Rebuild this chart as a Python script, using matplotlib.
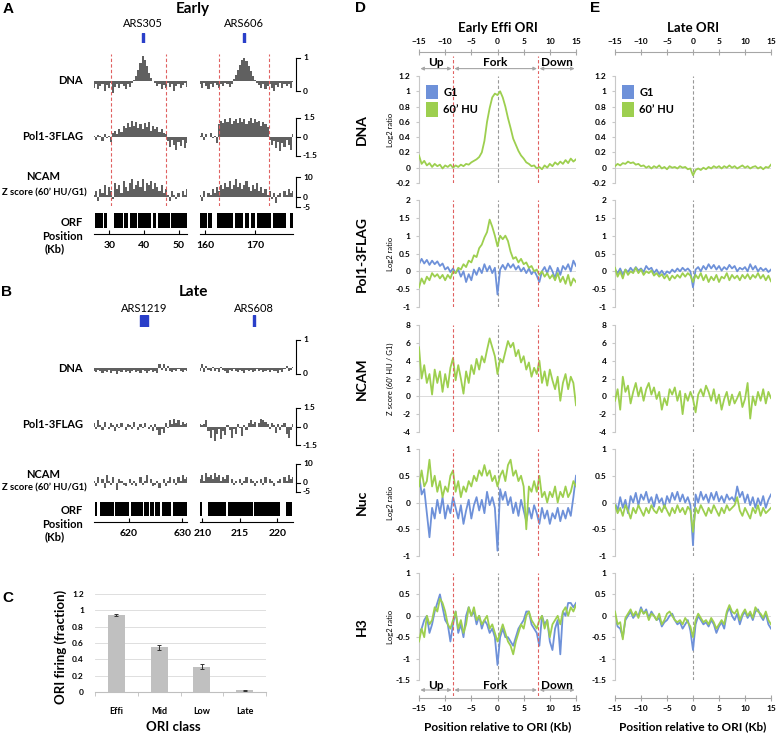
import numpy as np
import matplotlib.pyplot as plt
from matplotlib.patches import Patch
from matplotlib.transforms import blended_transform_factory as blend

plt.rcParams['font.family'] = ['Lato', 'DejaVu Sans']

# ---------------- Panel A (early origins) browser tracks ----------------
a_xlims = [(25.6, 52.3), (159.0, 177.6)]
a_dna_base = 0.3
a_dna_left = [0.1, 0.2, 0.05, 0.15, 0.22, 0.0, 0.18, 0.1, 0.25, -0.05,
              0.12, 0.2, 0.08, 0.22, 0.15, 0.05, 0.2, 0.12, 0.25,
              0.32, 0.45, 0.65, 0.85, 1.05, 0.95, 0.75, 0.55, 0.4, 0.3,
              0.25, 0.15, 0.22, 0.05, 0.18, 0.1, 0.25, 0.12, 0.2, 0.0, 0.15, 0.22, 0.1, 0.18, 0.25, 0.12]
a_dna_right = [0.2, 0.1, 0.25, 0.15, 0.05, 0.2, 0.12, 0.25, 0.18, 0.08, 0.22, 0.15, 0.25, 0.2, 0.12, 0.22,
               0.35, 0.5, 0.65, 0.8, 0.95, 1.0, 0.9, 0.75, 0.6, 0.45, 0.32,
               0.25, 0.18, 0.1, 0.2, 0.05, 0.15, 0.22, 0.1, 0.0, 0.18, 0.12, 0.25, 0.08, 0.2, 0.15, 0.22, 0.1, 0.28]
a_pol_left = [0.1, -0.2, 0.15, 0.05, -0.3, 0.2, -0.1, 0.1, -0.4,
              0.3, 0.5, 0.2, 0.6, 0.4, 0.9, 0.7, 1.1, 0.8, 1.3, 0.9, 1.2, 0.7, 1.0, 0.6, 1.1, 0.8, 1.2,
              0.5, 0.9, 0.6, 0.8, 0.4, 0.6, 0.3, 0.2,
              -0.3, -0.8, -0.2, -0.6, -1.0, -0.4, -0.7, -0.2, -0.9, -0.5]
a_pol_right = [0.1, 0.3, -0.2, 0.2, 0.0, 0.3, -0.1, 0.1, -0.5,
               1.0, 1.3, 1.1, 1.4, 1.2, 1.5, 1.0, 1.3, 1.4, 1.1, 1.5, 1.2, 1.4, 1.0, 1.3, 1.5, 1.1, 1.4,
               1.2, 1.3, 0.9, 1.2, 1.0, 0.8,
               -0.2, -0.6, -0.3, -0.9, -0.4, -1.1, -0.5, -0.8, -0.2, -0.6, -1.0, 0.2]
a_ncam_left = [1, 3, -2, 4, 2, 6, 1, 5, 3, -1, 7, 4, 6, 2, 8, 5, 3, 7, 9, 4, 6, 8, 5, 9, 3,
               7, 6, 8, 4, 7, 5, 3, 6, 2, 4, 1, -2, 3, 1, -1, 2, 0, 3, 1, 4]
a_ncam_right = [1, -2, 3, 0, 2, 1, 4, 2, 5, 3, 6, 4, 7, 5, 8, 4, 6, 9, 5, 7, 4, 6, 8, 5, 3,
                6, 4, 7, 3, 5, 2, 4, 1, 3, -1, 2, -3, 1, 2, 0, 3, 1, 4, 2, 3]
a_orf = [[(25.8, 28.3), (28.6, 29.2), (31.4, 33.9), (34.2, 35.3), (35.8, 37.9), (38.3, 42.1),
          (42.6, 43.5), (44.0, 47.4), (47.8, 52.2)],
         [(159.0, 160.3), (160.7, 161.3), (162.3, 165.6), (166.0, 167.6), (168.0, 168.8),
          (169.1, 170.0), (170.3, 173.2), (173.6, 176.2), (176.9, 177.5)]]
a_pos_ticks = [[30, 40, 50], [160, 170]]
a_fork_edges = [[30.6, 46.2], [162.8, 172.8]]
a_ars = [('ARS305', 39.5, 39.85), ('ARS606', 167.7, 167.95)]

# ---------------- Panel B (late origins) browser tracks ----------------
b_xlims = [(613.4, 630.9), (209.7, 222.1)]
b_dna_base = 0.18
b_dna_left = [0.1, 0.05, 0.12, 0.08, 0.02, 0.1, 0.06, 0.12, 0.04, 0.1, 0.08, 0.0, 0.1, 0.06, 0.12,
              0.05, 0.1, 0.03, 0.09, 0.12, 0.06, 0.1, 0.04, 0.11, 0.08, 0.02, 0.1, 0.13, 0.06, 0.1,
              0.04, 0.3, 0.12, 0.28, 0.08, 0.25, 0.1, 0.06, 0.12, 0.08, 0.14, 0.1, 0.05, 0.12, 0.1]
b_dna_right = [0.1, 0.28, 0.05, 0.25, 0.12, 0.08, 0.22, 0.1, 0.14, 0.06, 0.2, 0.12, 0.1, 0.04, 0.12,
               0.08, 0.14, 0.1, 0.06, 0.12, 0.1, 0.04, 0.13, 0.08, 0.12, 0.05, 0.1, 0.14, 0.08, 0.12,
               0.06, 0.1, 0.13, 0.05, 0.12, 0.08, 0.1, 0.04, 0.12, 0.06, 0.14, 0.25, 0.08, 0.12, 0.22]
b_pol_left = [0.3, -0.2, 0.5, 0.1, -0.3, 0.4, 0.0, -0.2, 0.3, 0.1, -0.4, 0.2, -0.1, 0.3, 0.0,
              -0.3, 0.2, 0.1, -0.2, 0.4, 0.0, -0.3, 0.2, -0.1, 0.3, 0.0, -0.2, 0.1, -0.4, 0.2,
              -0.3, -0.7, -0.2, -0.5, 0.3, -0.1, 0.5, 0.2, 0.6, 0.3, 0.5, 0.1, 0.4, 0.2, 0.3]
b_pol_right = [0.2, 0.15, 0.2, 0.5, -0.4, -0.9, -0.3, -1.2, -0.6, -0.2, -1.0, -0.4, -0.7, 0.1, -0.3,
               -0.9, -0.2, -0.6, 0.2, -0.1, -0.8, 0.1, -0.3, 0.3, 0.5, 0.2, 0.4, 0.0, 0.3, 0.6,
               0.5, 0.4, 0.2, -0.2, 0.3, 0.1, -0.5, 0.2, -0.3, 0.1, 0.3, -0.6, -0.9, -0.3, 0.2]
b_ncam_left = [1, -2, 3, 0, 2, -3, 4, 1, -1, 3, 0, -4, 2, 1, -1, -2, 0, 2, -1, 1, -2, 0, 3, -1, 1,
               4, 0, 2, -2, -1, 1, -3, 0, 2, -2, 1, 3, 0, 2, -1, 3, 1, 4, 2, 3]
b_ncam_right = [2, 4, 1, 5, 3, 4, 2, 5, 3, 4, 1, 3, 2, 4, 0, 2, -1, 1, 0, 2, -1, 1, 3, 0, 2,
                1, -2, 1, 0, 2, -1, 3, 0, 2, 1, -2, 0, 1, 2, 0, 3, 1, 4, 2, 3]
b_orf = [[(613.5, 614.0), (614.6, 617.1), (617.4, 620.0), (620.4, 622.6), (622.9, 623.7),
          (624.0, 624.7), (624.9, 625.9), (626.2, 627.9), (628.2, 630.9)],
         [(209.6, 209.9), (210.8, 213.1), (213.4, 216.7), (216.9, 220.4), (221.1, 222.0)]]
b_pos_ticks = [[620, 630], [210, 215, 220]]
b_ars = [('ARS1219', 622.1, 623.6), ('ARS608', 216.7, 217.0)]

# ---------------- Panel C ----------------
ori_classes = ['Effi', 'Mid', 'Low', 'Late']
ori_firing = [0.94, 0.55, 0.31, 0.02]
ori_err = [0.01, 0.03, 0.03, 0.005]

# ---------------- Panels D / E: profiles around ORI ----------------
pos_kb = np.arange(-15, 15.01, 0.5)
fork_edges = [-8.5, 7.8]
region_edges = [-15, -8.5, 7.8, 15]
region_names = ['Up', 'Fork', 'Down']

d_dna_hu = [0.16, 0.05, 0.09, 0.03, 0.06, 0.01, 0.05, 0.02, 0.04, -0.01,
            0.03, 0.01, 0.04, 0.0, 0.03, 0.01, 0.04, 0.02, 0.05, 0.04,
            0.07, 0.09, 0.11, 0.14, 0.2, 0.35, 0.6, 0.78, 0.92, 0.97,
            0.95, 1.0, 0.92, 0.8, 0.65, 0.52, 0.38, 0.3, 0.22, 0.16,
            0.12, 0.07, 0.05, 0.02, 0.03, -0.01, 0.01, -0.02, 0.03, 0.0,
            0.05, 0.02, 0.07, 0.04, 0.08, 0.05, 0.1, 0.06, 0.12, 0.08, 0.11]
d_pol_g1 = [0.2, 0.35, 0.22, 0.32, 0.18, 0.3, 0.2, 0.28, 0.15, 0.22,
            0.05, 0.12, -0.02, 0.08, -0.05, 0.05, -0.15, 0.0, -0.3, -0.08,
            -0.25, 0.05, -0.1, 0.1, -0.05, 0.2, 0.0, 0.15, -0.05, 0.1,
            -0.65, 0.05, 0.18, 0.05, 0.22, 0.1, 0.2, 0.05, 0.15, 0.0,
            0.1, -0.05, 0.08, -0.08, 0.02, -0.12, -0.3, 0.0, 0.12, -0.05,
            0.15, 0.0, -0.2, 0.1, -0.1, 0.15, 0.05, 0.2, 0.0, 0.3, 0.15]
d_pol_hu = [-0.45, -0.2, -0.35, -0.15, -0.25, -0.05, -0.15, -0.08, -0.2, -0.1,
            -0.25, -0.1, -0.2, 0.0, -0.05, 0.1, 0.05, 0.2, 0.12, 0.3,
            0.25, 0.45, 0.4, 0.65, 0.75, 0.95, 1.1, 1.45, 1.25, 1.0,
            0.7, 1.0, 0.9, 1.0, 0.85, 0.55, 0.35, 0.4, 0.25, 0.35,
            0.2, 0.25, 0.1, 0.15, 0.0, 0.05, -0.1, 0.0, -0.15, -0.05,
            -0.2, -0.1, -0.25, -0.05, -0.3, -0.15, -0.35, -0.1, -0.4, -0.2, -0.3]
d_ncam_hu = [5.5, 2.0, 3.5, 1.5, 2.5, 0.2, 3.0, 1.5, 2.8, 0.5,
             2.5, 1.0, 3.2, 4.3, 1.8, 3.5, 2.0, 0.3, 2.8, 1.5,
             3.5, 2.5, 4.2, 3.0, 4.5, 3.8, 5.2, 6.5, 5.5, 4.5,
             2.5, 4.2, 3.8, 5.0, 6.2, 5.5, 6.0, 4.5, 5.2, 3.8,
             4.5, 3.0, 3.8, 2.2, 3.2, 2.5, 4.0, 1.5, 2.8, 1.2,
             3.0, 1.8, 0.8, 2.2, -0.5, 1.5, 2.5, 0.8, 2.2, 1.5, -1.0]
d_nuc_g1 = [0.55, 0.15, 0.25, -0.2, -0.65, -0.1, -0.3, 0.05, -0.2, 0.1,
            -0.3, -0.05, -0.2, 0.1, -0.1, -0.3, -0.05, -0.4, -0.15, 0.05,
            -0.3, -0.05, 0.1, -0.15, 0.05, -0.2, 0.2, -0.05, 0.1, -0.1,
            -0.9, 0.25, 0.05, 0.2, -0.05, 0.1, -0.2, 0.0, -0.25, 0.05,
            -0.15, -0.35, -0.1, -0.3, -0.05, -0.2, -0.4, -0.1, -0.3, -0.15,
            -0.4, -0.2, -0.3, -0.1, -0.35, -0.15, -0.3, -0.1, -0.25, 0.1, 0.5]
d_nuc_hu = [0.3, 0.6, 0.3, 0.4, 0.8, 0.3, 0.5, 0.2, 0.4, 0.1,
            0.3, 0.2, 0.5, 0.6, 0.2, 0.4, 0.1, 0.3, 0.2, 0.4,
            0.3, 0.5, 0.4, 0.6, 0.5, 0.7, 0.5, 0.6, 0.4, 0.5,
            0.3, 0.5, 0.6, 0.4, 0.7, 0.8, 0.5, 0.6, 0.4, 0.5,
            0.3, -0.5, 0.3, 0.2, 0.4, 0.2, 0.5, 0.1, 0.2, 0.0,
            0.2, 0.1, 0.3, 0.0, 0.2, 0.1, 0.3, 0.1, 0.2, 0.4, 0.3]
d_h3_g1 = [-0.4, -0.3, -0.1, 0.0, -0.4, -0.2, 0.1, 0.3, 0.5, 0.2,
           -0.1, -0.2, -0.6, -0.2, 0.1, -0.4, -0.2, -0.5, 0.0, 0.2,
           0.0, 0.1, -0.2, 0.0, -0.3, -0.1, -0.2, -0.4, -0.3, -0.5,
           -1.15, -0.5, -0.3, -0.5, -0.5, -0.6, -0.7, -0.5, -0.3, -0.2,
           -0.1, 0.1, 0.1, -0.2, -0.3, -0.4, -0.7, 0.0, -0.2, -0.1,
           -0.6, -0.8, -0.3, -0.1, -0.9, 0.1, 0.0, 0.3, 0.3, 0.2, 0.3]
d_h3_hu = [-0.6, -0.3, -0.5, 0.0, -0.2, -0.1, 0.2, 0.1, 0.4, 0.3,
           0.1, -0.2, -0.3, -0.1, 0.1, -0.3, -0.1, -0.4, -0.2, 0.2,
           0.0, 0.2, -0.1, 0.0, -0.2, -0.1, 0.0, -0.3, -0.2, -0.4,
           -0.6, -0.4, -0.2, -0.4, -0.6, -0.7, -0.9, -0.6, -0.4, -0.2,
           -0.3, 0.0, 0.1, -0.1, -0.2, -0.3, -0.1, 0.0, -0.3, -0.1,
           -0.5, -0.2, -0.1, 0.0, -0.2, 0.1, 0.2, 0.0, 0.2, 0.1, 0.25]

e_dna_hu = [0.02, 0.05, 0.03, 0.06, 0.05, 0.08, 0.06, 0.07, 0.04, 0.05,
            0.02, 0.03, 0.0, 0.02, -0.01, 0.02, 0.0, 0.03, -0.01, 0.01,
            -0.02, 0.02, 0.0, 0.01, -0.01, 0.02, 0.0, 0.01, -0.02, -0.01,
            -0.1, -0.03, -0.01, -0.03, 0.0, -0.02, 0.01, -0.01, 0.02, 0.0,
            0.02, -0.01, 0.02, 0.0, 0.03, 0.0, 0.02, -0.01, 0.01, 0.03,
            0.0, 0.02, -0.01, 0.01, 0.02, -0.01, 0.01, -0.02, 0.01, 0.0, 0.04]
e_pol_g1 = [0.05, -0.05, 0.08, -0.1, 0.05, -0.02, 0.1, 0.0, 0.12, 0.02,
            0.08, -0.02, 0.15, 0.05, 0.1, -0.05, 0.05, -0.08, 0.02, -0.1,
            0.0, -0.05, 0.05, -0.02, 0.08, 0.0, 0.1, 0.02, 0.08, 0.0,
            -0.45, 0.05, 0.12, 0.0, 0.15, 0.05, 0.2, 0.08, 0.18, 0.05,
            0.15, 0.02, 0.12, 0.05, 0.18, 0.08, 0.15, 0.0, 0.1, 0.05,
            0.12, 0.0, 0.2, 0.05, 0.15, 0.0, 0.1, 0.02, 0.08, -0.02, 0.05]
e_pol_hu = [0.1, -0.15, 0.0, -0.2, 0.05, -0.1, 0.0, -0.05, 0.1, -0.05,
            0.05, -0.1, 0.0, -0.05, 0.02, -0.12, -0.05, -0.15, -0.08, -0.2,
            -0.1, -0.25, -0.12, -0.2, -0.1, -0.18, -0.05, -0.15, -0.05, -0.12,
            -0.3, -0.1, -0.2, -0.05, -0.25, -0.1, -0.3, -0.15, -0.25, -0.1,
            -0.3, -0.15, -0.2, -0.05, -0.25, -0.1, -0.2, -0.12, -0.25, -0.1,
            -0.2, -0.08, -0.22, -0.1, -0.18, -0.05, -0.2, -0.1, -0.25, -0.12, -0.28]
e_ncam_hu = [-0.5, 0.8, -1.5, 2.2, 0.5, 1.2, -0.8, 0.5, 1.5, 0.0,
             1.0, -0.5, 0.8, 1.5, 0.2, 1.0, -0.3, 0.5, -1.5, -0.2,
             -1.0, 0.8, 0.2, 1.0, -0.5, 0.6, -2.0, 0.3, -0.5, 0.5,
             -0.3, -1.8, 0.2, 0.8, 0.0, 1.2, 0.5, -0.5, 0.8, -0.8,
             0.2, -1.5, -0.3, 0.5, -1.0, 0.2, -0.8, -0.2, 0.5, -1.2,
             -0.3, 1.5, -2.5, 0.0, -1.0, 0.5, -0.5, 0.8, -0.8, 0.5, -0.2]
e_nuc_g1 = [0.0, -0.15, 0.1, -0.1, 0.05, -0.2, 0.12, 0.0, 0.18, -0.05,
            0.15, 0.05, 0.2, 0.0, 0.1, -0.08, 0.15, 0.0, 0.08, -0.1,
            0.12, 0.0, 0.18, 0.05, 0.2, 0.02, 0.15, 0.0, 0.1, -0.05,
            -0.8, 0.15, 0.0, 0.2, 0.05, 0.15, 0.0, 0.18, 0.05, 0.2,
            0.02, 0.12, 0.0, 0.15, 0.05, 0.1, 0.02, 0.3, 0.1, 0.2,
            0.0, 0.15, -0.05, 0.1, -0.1, 0.08, -0.05, 0.12, -0.1, 0.05, 0.15]
e_nuc_hu = [-0.05, -0.2, -0.1, -0.25, -0.05, -0.15, -0.3, -0.1, -0.2, -0.05,
            -0.15, -0.25, -0.1, -0.2, -0.05, -0.15, -0.2, -0.08, -0.18, -0.05,
            -0.15, -0.25, -0.1, -0.2, -0.05, -0.18, -0.1, -0.22, -0.08, -0.15,
            -0.55, -0.1, -0.2, -0.05, -0.15, -0.25, -0.1, -0.2, -0.05, -0.15,
            -0.25, -0.1, -0.2, -0.05, -0.15, -0.1, -0.05, 0.1, -0.15, -0.25,
            -0.1, -0.2, -0.3, -0.1, -0.2, -0.05, -0.25, -0.1, -0.2, -0.15, -0.1]
e_h3_g1 = [0.0, -0.25, -0.3, -0.5, -0.1, 0.0, 0.1, -0.05, 0.05, 0.0,
           0.2, 0.05, 0.15, -0.05, 0.1, 0.0, -0.1, -0.05, -0.25, -0.15,
           -0.1, 0.0, 0.05, -0.1, -0.2, -0.15, -0.3, -0.2, -0.1, -0.35,
           -0.8, -0.2, 0.0, -0.1, -0.2, -0.15, -0.25, -0.1, -0.2, -0.4,
           -0.25, -0.15, -0.3, 0.05, 0.2, 0.0, -0.1, 0.05, -0.2, 0.0,
           0.1, -0.05, 0.05, -0.1, 0.1, 0.15, 0.0, -0.1, 0.05, -0.2, -0.3]
e_h3_hu = [0.1, -0.2, -0.15, -0.55, -0.05, 0.05, 0.15, 0.0, 0.1, -0.05,
           0.15, 0.05, 0.1, -0.1, 0.05, 0.0, -0.1, 0.05, -0.2, -0.1,
           0.05, 0.1, 0.0, -0.1, -0.15, -0.1, -0.2, -0.05, -0.15, -0.25,
           -0.5, -0.1, 0.05, -0.05, -0.15, -0.1, -0.2, -0.05, -0.15, -0.3,
           -0.2, -0.1, -0.2, 0.1, 0.25, 0.1, 0.05, 0.15, -0.1, 0.05,
           0.15, 0.0, 0.1, -0.05, 0.2, 0.1, 0.05, -0.05, 0.1, -0.1, -0.2]

row_names = ['DNA', 'Pol1-3FLAG', 'NCAM', 'Nuc', 'H3']
row_units = ['Log2 ratio', 'Log2 ratio', 'Z score (60\u2019 HU / G1)', 'Log2 ratio', 'Log2 ratio']
row_ylims = [(-0.2, 1.2), (-1, 2), (-4, 8), (-1, 1), (-1.5, 1)]
row_yticks = [[-0.2, 0, 0.2, 0.4, 0.6, 0.8, 1, 1.2], [-1, -0.5, 0, 0.5, 1, 1.5, 2],
              [-4, -2, 0, 2, 4, 6, 8], [-1, -0.5, 0, 0.5, 1], [-1.5, -1, -0.5, 0, 0.5, 1]]
d_g1 = [None, d_pol_g1, None, d_nuc_g1, d_h3_g1]
d_hu = [d_dna_hu, d_pol_hu, d_ncam_hu, d_nuc_hu, d_h3_hu]
e_g1 = [None, e_pol_g1, None, e_nuc_g1, e_h3_g1]
e_hu = [e_dna_hu, e_pol_hu, e_ncam_hu, e_nuc_hu, e_h3_hu]

BLUE = '#6E91D9'
GREEN = '#9DCF4F'
RED = '#E06060'
ARS_BLUE = '#2A3FC9'
TRACK = '#606060'
AXGRAY = '#BFBFBF'

W, H = 776, 736
fig = plt.figure(figsize=(W / 100, H / 100), dpi=100)


def px_axes(x0, y0, x1, y1):
    return fig.add_axes([x0 / W, 1 - y1 / H, (x1 - x0) / W, (y1 - y0) / H])


def ftext(x, y, s, **kw):
    fig.text(x / W, 1 - y / H, s, **kw)


def bold_ticks(ax):
    for lab in ax.get_xticklabels() + ax.get_yticklabels():
        lab.set_fontweight('bold')


# ---------------- genome browser panels ----------------
def browser(rows, xlims, dna, dna_base, pol, ncam, orf, ticks, ars, ars_rows, ars_off, reds=None):
    dna_px, pol_px, ncam_px, orf_px, pos_y = rows
    for i, (bx0, bx1) in enumerate([(94, 187), (200, 293)]):
        lo, hi = xlims[i]
        specs = [(dna_px, dna[i], (0, 1), dna_base, [(0, '0'), (1, '1')]),
                 (pol_px, pol[i], (-1.5, 1.5), 0, [(-1.5, '-1.5'), (0, '0'), (1.5, '1.5')]),
                 (ncam_px, ncam[i], (-5, 10), 0, [(-5, '-5'), (0, '0'), (10, '10')])]
        for (y0, y1), vals, ylim, base, sb in specs:
            ax = px_axes(bx0, y0, bx1, y1)
            xs = np.linspace(lo, hi, len(vals))
            ax.fill_between(xs, vals, base, step='mid', color=TRACK, lw=0, clip_on=False)
            ax.set_xlim(lo, hi)
            ax.set_ylim(ylim)
            ax.axis('off')
            if i == 1:
                tr = blend(fig.transFigure, ax.transData)
                xb = 296 / W
                ax.plot([xb, xb], list(ylim), color='black', lw=0.8, transform=tr, clip_on=False)
                for v, lab in sb:
                    ax.plot([xb, xb + 4 / W], [v, v], color='black', lw=0.8, transform=tr, clip_on=False)
                    ax.text(xb + 7 / W, v, lab, transform=tr, fontsize=6, fontweight='bold',
                            va='center', ha='left')
        # ORF track
        ax = px_axes(bx0, orf_px[0], bx1, orf_px[1])
        ax.broken_barh([(s, e - s) for s, e in orf[i]], (0, 1), facecolors='black')
        ax.set_xlim(lo, hi)
        ax.set_ylim(0, 1)
        ax.axis('off')
        # position axis
        ax = px_axes(bx0, pos_y - 10, bx1, pos_y)
        ax.patch.set_visible(False)
        ax.set_xlim(lo, hi)
        for s in ['top', 'left', 'right']:
            ax.spines[s].set_visible(False)
        ax.set_yticks([])
        ax.set_xticks(ticks[i])
        ax.set_xticklabels([str(t) for t in ticks[i]])
        ax.tick_params(axis='x', direction='in', length=3, pad=5, labelsize=7.5)
        bold_ticks(ax)
        # fork edges
        if reds is not None:
            ax = px_axes(bx0, 54, bx1, 206)
            ax.patch.set_visible(False)
            ax.set_xlim(lo, hi)
            ax.axis('off')
            for r in reds[i]:
                ax.axvline(r, color=RED, ls=(0, (3, 2)), lw=0.8)
        # ARS marker
        name, s, e = ars[i]
        ax = px_axes(bx0, ars_rows[0], bx1, ars_rows[1])
        ax.patch.set_visible(False)
        ax.set_xlim(lo, hi)
        ax.set_ylim(0, 1)
        ax.axis('off')
        ax.axvspan(s, e, color=ARS_BLUE)
        ax.annotate(name, xy=((s + e) / 2, 1), xytext=(0, ars_off), textcoords='offset points',
                    ha='center', va='center', fontsize=8)


browser([(58, 91), (118, 156), (177, 207), (213, 228), 234], a_xlims,
        [a_dna_left, a_dna_right], a_dna_base, [a_pol_left, a_pol_right],
        [a_ncam_left, a_ncam_right], a_orf, a_pos_ticks, a_ars, (33, 43), 6.5, reds=a_fork_edges)
browser([(340, 374), (408, 445), (464, 492), (502, 516), 522], b_xlims,
        [b_dna_left, b_dna_right], b_dna_base, [b_pol_left, b_pol_right],
        [b_ncam_left, b_ncam_right], b_orf, b_pos_ticks, b_ars, (315, 327), 5)

for (yd, yp, yn, yz, yo, ypos, ykb) in [(81, 137, 177, 193, 222, 236, 249),
                                        (369, 425, 475, 488, 510, 524, 537)]:
    ftext(83, yd, 'DNA', ha='right', va='center', fontsize=8, fontweight='bold')
    ftext(83, yp, 'Pol1-3FLAG', ha='right', va='center', fontsize=8, fontweight='bold')
    ftext(43, yn, 'NCAM', ha='center', va='center', fontsize=8, fontweight='bold')
    ftext(44, yz, 'Z score (60\u2019 HU/G1)', ha='center', va='center', fontsize=6.8, fontweight='bold')
    ftext(83, yo, 'ORF', ha='right', va='center', fontsize=8, fontweight='bold')
    ftext(83, ypos, 'Position', ha='right', va='center', fontsize=8, fontweight='bold')
    ftext(45, ykb, '(Kb)', ha='left', va='center', fontsize=8, fontweight='bold')

ftext(193, 9, 'Early', ha='center', va='center', fontsize=11, fontweight='bold')
ftext(193, 292, 'Late', ha='center', va='center', fontsize=11, fontweight='bold')

# ---------------- panel C ----------------
axc = px_axes(95, 594, 266, 692)
xc = np.arange(len(ori_classes))
axc.bar(xc, ori_firing, width=0.4, color='#C0C0C0', yerr=ori_err, capsize=1.5,
        error_kw=dict(ecolor='#333333', elinewidth=0.7, capthick=0.7), zorder=3)
axc.set_xlim(-0.5, 3.5)
axc.set_ylim(0, 1.2)
axc.set_yticks(np.round(np.arange(0, 1.21, 0.2), 1))
axc.set_yticklabels([f'{t:g}' for t in np.round(np.arange(0, 1.21, 0.2), 1)])
axc.yaxis.grid(True, color='#D9D9D9', lw=0.6)
axc.set_axisbelow(True)
for s in ['top', 'left', 'right']:
    axc.spines[s].set_visible(False)
axc.spines['bottom'].set_color(AXGRAY)
axc.set_xticks(xc)
axc.set_xticklabels(ori_classes)
axc.set_xticks(np.arange(-0.5, 3.6, 1), minor=True)
axc.tick_params(axis='x', which='major', length=0, pad=11, labelsize=6.5)
axc.tick_params(axis='x', which='minor', length=3, color=AXGRAY)
axc.tick_params(axis='y', length=0, pad=8, labelsize=6)
bold_ticks(axc)
ftext(61, 647, 'ORI firing (fraction)', rotation=90, ha='center', va='center', fontsize=9.5, fontweight='bold')
ftext(173, 727, 'ORI class', ha='center', va='center', fontsize=9.5, fontweight='bold')

# ---------------- panels D and E ----------------
ROW_PX = [(76, 183), (200, 307), (325, 432), (449, 556), (573, 680)]


def edge_axis(ax, top):
    ax.patch.set_visible(False)
    ax.set_xlim(-15, 15)
    ax.set_yticks([])
    keep = 'top' if top else 'bottom'
    for s in ['top', 'bottom', 'left', 'right']:
        ax.spines[s].set_visible(s == keep)
    ax.spines[keep].set_color('#A6A6A6')
    ax.set_xticks(np.arange(-15, 16, 5))
    if top:
        ax.xaxis.tick_top()
    ax.tick_params(axis='x', direction='inout', length=4, color='#A6A6A6', labelsize=6, pad=3)
    bold_ticks(ax)


def region_arrows(ax, y_arrow, y_text):
    ax.set_xlim(-15, 15)
    ax.set_ylim(1, 0)
    ax.axis('off')
    for k, name in enumerate(region_names):
        a, b = region_edges[k], region_edges[k + 1]
        ax.annotate('', xy=(a, y_arrow), xytext=(b, y_arrow),
                    arrowprops=dict(arrowstyle='<|-|>', color='#A6A6A6', lw=0.8,
                                    mutation_scale=5, shrinkA=1, shrinkB=1))
        ax.text((a + b) / 2, y_text, name, ha='center', va='center', fontsize=8.5, fontweight='bold')
    for r in fork_edges:
        ax.axvline(r, color=RED, ls=(0, (3, 2)), lw=0.8)


def profile_column(x0, x1, g1_rows, hu_rows, title, with_forks):
    for k, (y0, y1) in enumerate(ROW_PX):
        ax = px_axes(x0, y0, x1, y1)
        ax.set_xlim(-15, 15)
        ax.set_ylim(row_ylims[k])
        for s in ['top', 'right', 'bottom']:
            ax.spines[s].set_visible(False)
        ax.spines['left'].set_color('#C8C8C8')
        ax.set_yticks(row_yticks[k])
        ax.set_yticklabels([f'{t:g}' for t in row_yticks[k]])
        ax.tick_params(axis='y', length=2, color='#C8C8C8', labelsize=6, pad=4)
        ax.set_xticks([])
        bold_ticks(ax)
        ax.axhline(0, color='#D6D6D6', lw=0.6, zorder=0)
        ax.axvline(0, color='#999999', ls=(0, (3, 2)), lw=0.8, zorder=1)
        if with_forks:
            for r in fork_edges:
                ax.axvline(r, color=RED, ls=(0, (3, 2)), lw=0.8, zorder=4)
        if g1_rows[k] is not None:
            ax.plot(pos_kb, g1_rows[k], color=BLUE, lw=1.3, zorder=2)
        ax.plot(pos_kb, hu_rows[k], color=GREEN, lw=1.3, zorder=3)
        if k == 0:
            handles = [Patch(facecolor=BLUE, label='G1'), Patch(facecolor=GREEN, label='60\u2019 HU')]
            ax.legend(handles=handles, loc='upper left', bbox_to_anchor=(0.0, 0.98), frameon=False,
                      prop={'weight': 'bold', 'size': 8}, handlelength=1.1, handleheight=1.6,
                      handletextpad=0.5, labelspacing=0.3, borderaxespad=0.2)
    edge_axis(px_axes(x0, 52, x1, 60), True)
    edge_axis(px_axes(x0, 690, x1, 698), False)
    cx = (x0 + x1) / 2
    ftext(cx, 28, title, ha='center', va='center', fontsize=9.5, fontweight='bold')
    ftext(cx, 727, 'Position relative to ORI (Kb)', ha='center', va='center', fontsize=8.5, fontweight='bold')


profile_column(419, 576, d_g1, d_hu, 'Early Effi ORI', True)
profile_column(615, 771, e_g1, e_hu, 'Late ORI', False)

region_arrows(px_axes(419, 56, 576, 74), 0.7, 0.35)
region_arrows(px_axes(419, 681, 576, 696), 0.6, 0.3)

for k, (y0, y1) in enumerate(ROW_PX):
    cy = (y0 + y1) / 2
    ftext(362, cy, row_names[k], rotation=90, ha='center', va='center', fontsize=10, fontweight='bold')
    ftext(390, cy, row_units[k], rotation=90, ha='center', va='center', fontsize=5.5)

# panel letters
for letter, (x, y) in zip('ABCDE', [(8, 9), (7, 292), (8, 598), (360, 8), (595, 8)]):
    ftext(x, y, letter, ha='center', va='center', fontsize=11, fontweight='bold', family='Liberation Sans')

fig.savefig('out.png', dpi=100)
